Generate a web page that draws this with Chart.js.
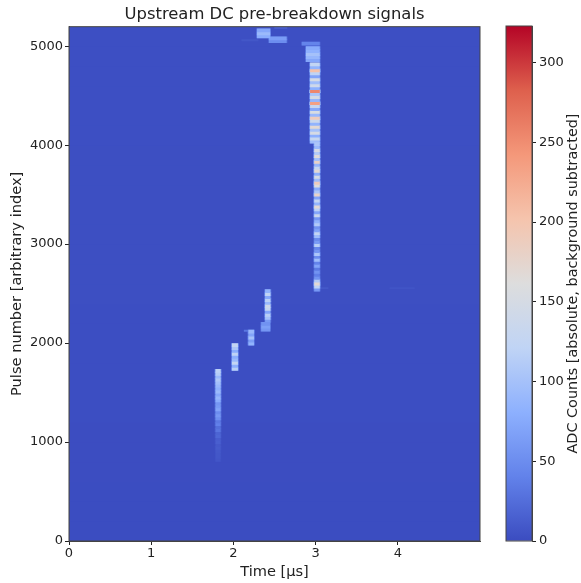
<!DOCTYPE html>
<html>
<head>
<meta charset="utf-8">
<script src="https://cdn.jsdelivr.net/npm/chart.js@4/dist/chart.umd.min.js"></script>
<style>
  html, body { margin: 0; padding: 0; background: #fff; }
  #wrap { position: relative; width: 581px; height: 583px; overflow: hidden; }
  #heat { position: absolute; left: 0; top: 0; }
  #bar { position: absolute; left: 490px; top: 0; }
</style>
</head>
<body>
<div id="wrap">
  <canvas id="heat" width="490" height="583"></canvas>
  <canvas id="bar" width="91" height="583"></canvas>
</div>
<script>
// axis limits and ticks
const timeMax = 4.997;
const pulseMax = 5197;
const adcMax = 323;
const timeTicks = [0, 1, 2, 3, 4];
const pulseTicks = [0, 1000, 2000, 3000, 4000, 5000];
const adcTicks = [0, 50, 100, 150, 200, 250, 300];

// pulses covered by one stripe
const pulseStep = 30;

// ADC per stripe, bottom to top
const colA = [7, 8, 8, 9, 11, 10, 14, 13, 20, 18, 30, 26, 40, 34, 52, 60, 50, 70, 62, 58, 78, 88, 74, 92, 82, 90, 98, 108, 92, 112, 118];
const colB = [115, 80, 125, 92, 80, 120, 78, 105, 125];
const colC = [85, 65, 100, 70, 90];
const colD = [58, 66, 54];
const colE = [62, 100, 115, 72, 128, 140, 90, 118, 75, 122, 85];
const colMainLow = [60, 120, 170, 110, 55, 38, 55, 35, 70, 42, 95, 50, 105, 58, 45, 115, 62, 48, 95, 125, 70, 55, 110, 85, 60, 135, 72, 118, 170, 85, 125, 70, 180, 105, 78, 160, 190, 95, 150, 80, 170, 130, 88, 180, 100, 165, 110, 150, 90, 105];
const colMainHigh = [95, 130, 80, 150, 100, 170, 85, 135, 190, 90, 155, 75, 130, 235, 88, 150, 105, 255, 80, 140, 95, 150, 70, 120, 205, 85, 125];
const colTopWide = [72, 88, 100, 82, 76];
const colTopFaint = [42];
const blockLeft = [78, 92, 74];
const blockRight = [50, 64];

// time range [start, end] and first pulse of each band
const bands = [
  [1.785, 1.84, 820, colA],
  [1.985, 2.05, 1740, colB],
  [2.185, 2.245, 1995, colC],
  [2.34, 2.442, 2135, colD],
  [2.388, 2.445, 2225, colE],
  [2.985, 3.045, 2540, colMainLow],
  [2.935, 3.045, 4035, colMainHigh],
  [2.885, 3.045, 4860, colTopWide],
  [2.835, 3.045, 5025, colTopFaint],
  [2.29, 2.442, 5100, blockLeft],
  [2.435, 2.642, 5050, blockRight]
];

// soft edge around each band, in time and as a share of the stripe level
const edgeTime = 0.01;
const edgeLevel = 0.4;

// thin streaks: pulse, start, end, ADC
const streaks = [
  [2125, 2.13, 2.25, 32],
  [5185, 2.5, 2.65, 16],
  [2555, 3.05, 3.15, 9],
  [2555, 3.9, 4.2, 6],
  [5060, 2.1, 2.3, 8]
];

// background level in wide rows
const bgPulses = [100, 300, 500, 700, 900, 1100, 1300, 1500, 1700, 1900, 2100, 2300, 2500, 2700, 2900, 3100, 3300, 3500, 3700, 3900, 4100, 4300, 4500, 4700, 4900, 5100];
const bgAdc = [0.5, 0.5, 0.5, 1, 1, 1, 1.5, 1.5, 1.5, 1.5, 1.5, 1.5, 2, 2, 2, 2, 2, 2, 2, 2, 2.5, 2.5, 2.5, 2.5, 2.5, 2.5];

// coolwarm
const cmap = [
  [0, 59, 76, 192], [0.125, 98, 130, 234], [0.25, 141, 176, 254], [0.375, 192, 212, 245],
  [0.5, 221, 221, 221], [0.625, 245, 196, 173], [0.75, 244, 152, 122], [0.875, 222, 96, 77], [1, 180, 4, 38]
];

function adcColor(v) {
  const f = Math.min(1, Math.max(0, v / adcMax));
  for (let i = 1; i < cmap.length; i++) {
    if (f <= cmap[i][0]) {
      const a = cmap[i - 1], b = cmap[i];
      const k = (f - a[0]) / (b[0] - a[0]);
      return `rgb(${a[1] + (b[1] - a[1]) * k}, ${a[2] + (b[2] - a[2]) * k}, ${a[3] + (b[3] - a[3]) * k})`;
    }
  }
  return 'rgb(180, 4, 38)';
}

const inkColor = '#222';
const frameColor = '#444';
const tickFont = { family: 'DejaVu Sans', size: 13 };
const labelFont = { family: 'DejaVu Sans', size: 14.6 };

const barColor = (c) => adcColor(c.raw.adc);

const datasets = [];
bands.forEach((b) => {
  datasets.push({
    data: b[3].map((v, i) => ({ y: b[2] + i * pulseStep, x: [b[0], b[1]], adc: v })),
    backgroundColor: barColor,
    barThickness: 3.1,
    grouped: false,
    order: 1
  });
  datasets.push({
    data: b[3].map((v, i) => ({ y: b[2] + i * pulseStep, x: [b[0] - edgeTime, b[1] + edgeTime], adc: v * edgeLevel })),
    backgroundColor: barColor,
    barThickness: 3.1,
    grouped: false,
    order: 2
  });
});
datasets.push({
  data: streaks.map((s) => ({ y: s[0], x: [s[1], s[2]], adc: s[3] })),
  backgroundColor: barColor,
  barThickness: 1.2,
  grouped: false,
  order: 3
});
datasets.push({
  data: bgPulses.map((p, i) => ({ y: p, x: [0, timeMax], adc: bgAdc[i] })),
  backgroundColor: barColor,
  barThickness: 20,
  grouped: false,
  order: 4
});

// box round the plot area
const frame = {
  id: 'frame',
  afterDraw(chart) {
    const a = chart.chartArea, ctx = chart.ctx;
    ctx.save();
    ctx.strokeStyle = frameColor;
    ctx.lineWidth = 1;
    ctx.strokeRect(a.left, a.top, a.right - a.left, a.bottom - a.top);
    ctx.restore();
  }
};

new Chart(document.getElementById('heat'), {
  type: 'bar',
  data: { datasets: datasets },
  plugins: [frame],
  options: {
    indexAxis: 'y',
    responsive: false,
    animation: false,
    layout: { padding: { top: 0, right: 10, bottom: 0, left: 8 } },
    plugins: {
      legend: { display: false },
      tooltip: { enabled: false },
      title: {
        display: true,
        text: 'Upstream DC pre-breakdown signals',
        color: inkColor,
        fullSize: false,
        font: { family: 'DejaVu Sans', size: 16.4, weight: 'normal' },
        padding: { top: 5, bottom: 2 }
      }
    },
    scales: {
      x: {
        type: 'linear',
        min: 0,
        max: timeMax,
        grid: { drawOnChartArea: false, tickLength: 4, color: inkColor },
        border: { color: frameColor },
        afterBuildTicks(s) { s.ticks = timeTicks.map((v) => ({ value: v })); },
        ticks: { color: inkColor, font: tickFont, maxRotation: 0, padding: 1, callback: (v) => String(v) },
        title: { display: true, text: 'Time [μs]', color: inkColor, font: labelFont, padding: { top: 1, bottom: 2 } },
        afterFit(s) { s.height = 42; }
      },
      y: {
        type: 'linear',
        min: 0,
        max: pulseMax,
        offset: false,
        grid: { drawOnChartArea: false, tickLength: 4, color: inkColor, offset: false },
        border: { color: frameColor },
        afterBuildTicks(s) { s.ticks = pulseTicks.map((v) => ({ value: v })); },
        ticks: { color: inkColor, font: tickFont, padding: 2, callback: (v) => String(v) },
        title: { display: true, text: 'Pulse number [arbitrary index]', color: inkColor, font: labelFont, padding: { top: 0, bottom: 2 } },
        afterFit(s) { s.width = 61; }
      }
    }
  }
});

// colour bar label reads upward, the axis title option cannot do that on the right side
const barLabel = {
  id: 'barLabel',
  afterDraw(chart) {
    const a = chart.chartArea, ctx = chart.ctx;
    ctx.save();
    ctx.translate(83, (a.top + a.bottom) / 2);
    ctx.rotate(-Math.PI / 2);
    ctx.textAlign = 'center';
    ctx.textBaseline = 'middle';
    ctx.fillStyle = inkColor;
    ctx.font = '14.4px "DejaVu Sans"';
    ctx.fillText('ADC Counts [absolute, background subtracted]', 0, 0);
    ctx.restore();
  }
};

function barGradient(c) {
  const chart = c.chart;
  if (!chart.chartArea) return adcColor(0);
  const y = chart.scales.y;
  const g = chart.ctx.createLinearGradient(0, y.getPixelForValue(0), 0, y.getPixelForValue(adcMax));
  cmap.forEach((s) => g.addColorStop(s[0], `rgb(${s[1]}, ${s[2]}, ${s[3]})`));
  return g;
}

new Chart(document.getElementById('bar'), {
  type: 'bar',
  data: {
    labels: ['ADC'],
    datasets: [{
      data: [[0, adcMax]],
      backgroundColor: barGradient,
      barPercentage: 1,
      categoryPercentage: 1
    }]
  },
  plugins: [frame, barLabel],
  options: {
    responsive: false,
    animation: false,
    layout: { padding: { top: 26, right: 0, bottom: 42, left: 16 } },
    plugins: { legend: { display: false }, tooltip: { enabled: false } },
    scales: {
      x: { display: false },
      y: {
        position: 'right',
        min: 0,
        max: adcMax,
        grid: { drawOnChartArea: false, tickLength: 4, color: inkColor },
        border: { color: frameColor },
        afterBuildTicks(s) { s.ticks = adcTicks.map((v) => ({ value: v })); },
        ticks: { color: inkColor, font: tickFont, padding: 3 },
        afterFit(s) { s.width = 49; }
      }
    }
  }
});
</script>
</body>
</html>
